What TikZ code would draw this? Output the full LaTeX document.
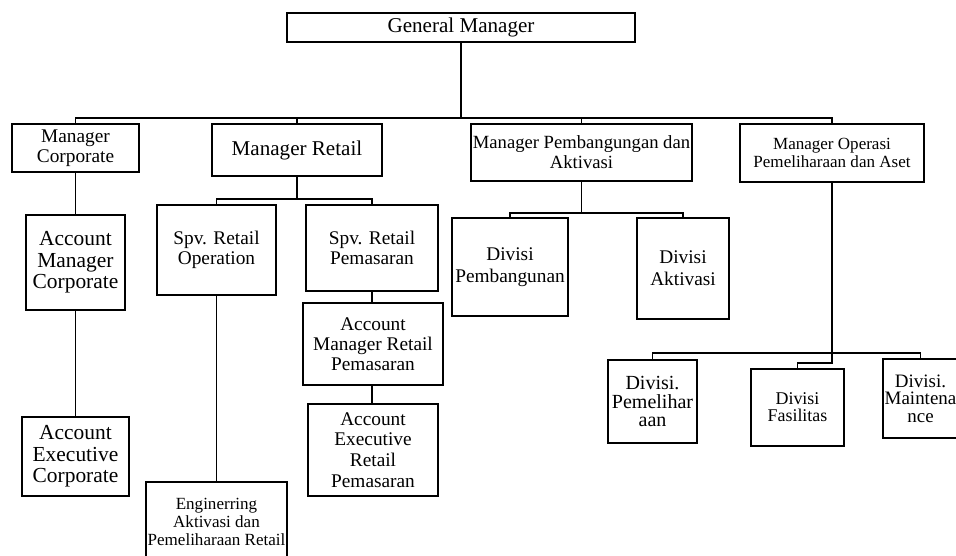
\documentclass[tikz,border=0pt]{standalone}
\usepackage{fontspec}
\setmainfont{Liberation Serif}
\begin{document}
\begin{tikzpicture}[x=0.02cm, y=-0.02cm]

\tikzstyle{unit} = [draw, line width=1.1pt, align=center, inner sep=1pt]
\tikzstyle{big}  = [font=\fontsize{12}{12.4}\selectfont]
\tikzstyle{mid}  = [font=\fontsize{11}{11.4}\selectfont]
\tikzstyle{sml}  = [font=\fontsize{9.7}{10.3}\selectfont]
\tikzstyle{link} = [line width=1.1pt]

\clip (0,0) rectangle (956,555);

% top and managers
\node [unit, big, minimum width=6.96cm, minimum height=0.58cm] (GM) at (461,27.5) {General Manager};
\node [unit, mid, minimum width=2.54cm, minimum height=0.96cm] (MgrCorp) at (75.5,148) {Manager\\Corporate};
\node [unit, big, minimum width=3.4cm, minimum height=1.04cm] (MgrRetail) at (297,150) {Manager Retail};
\node [unit, font=\fontsize{10.6}{11.3}\selectfont, minimum width=4.42cm, minimum height=1.14cm] (MgrPemb) at (581.5,152.5) {Manager Pembangungan dan\\Aktivasi};
\node [unit, sml, minimum width=3.68cm, minimum height=1.16cm] (MgrOps) at (832,153) {Manager Operasi\\Pemeliharaan dan Aset};

% corporate
\node [unit, font=\fontsize{12.2}{12.3}\selectfont, minimum width=1.98cm, minimum height=1.9cm] (AMCorp) at (75.5,262.5) {Account\\Manager\\Corporate};
\node [unit, font=\fontsize{12.2}{12.3}\selectfont, minimum width=2.14cm, minimum height=1.58cm] (AECorp) at (75.5,456.5) {Account\\Executive\\Corporate};

% retail
\node [unit, mid, minimum width=2.38cm, minimum height=1.8cm] (SpvOps) at (216.5,250) {Spv. Retail\\Operation};
\node [unit, mid, minimum width=2.64cm, minimum height=1.72cm] (SpvPem) at (372,248) {Spv. Retail\\Pemasaran};
\node [unit, sml, minimum width=2.82cm, minimum height=1.6cm] (Eng) at (216.5,522) {Enginerring\\Aktivasi dan\\Pemeliharaan Retail};
\node [unit, mid, minimum width=2.8cm, minimum height=1.64cm] (AMRP) at (373,344) {Account\\Manager Retail\\Pemasaran};
\node [unit, font=\fontsize{11}{11.8}\selectfont, minimum width=2.6cm, minimum height=1.84cm] (AERP) at (373,450) {Account\\Executive\\Retail\\Pemasaran};

% pembangunan
\node [unit, font=\fontsize{11}{12.4}\selectfont, minimum width=2.32cm, minimum height=1.96cm] (DivPemb) at (510,267) {Divisi\\Pembangunan};
\node [unit, font=\fontsize{11}{12.4}\selectfont, minimum width=1.84cm, minimum height=2.02cm] (DivAkt) at (683,268.5) {Divisi\\Aktivasi};

% operasi
\node [unit, font=\fontsize{11.4}{10.6}\selectfont, minimum width=1.78cm, minimum height=1.66cm] (DivPel) at (652.5,401.5) {Divisi.\\Pemelihar\\aan};
\node [unit, font=\fontsize{10.2}{9.6}\selectfont, minimum width=1.86cm, minimum height=1.54cm] (DivFas) at (797.5,407.5) {Divisi\\Fasilitas};
\node [unit, font=\fontsize{10.8}{10}\selectfont, minimum width=1.5cm, minimum height=1.58cm] (DivMnt) at (920.5,398.5) {Divisi.\\Maintena\\nce};

\coordinate (BusTop) at (0,118);
\coordinate (BusRetail) at (0,199);
\coordinate (BusPemb) at (0,213);
\coordinate (BusOps) at (0,353);
\coordinate (JogOps) at (0,363);

% connectors
\draw [link] (GM.south) -- (GM.south |- BusTop);
\draw [link] (MgrCorp.north) -- (MgrCorp.north |- BusTop) -- (MgrOps.north |- BusTop) -- (MgrOps.north);
\draw [link] (MgrRetail.north) -- (MgrRetail.north |- BusTop);
\draw [link] (MgrPemb.north) -- (MgrPemb.north |- BusTop);

\draw [link] (MgrCorp) -- (AMCorp);
\draw [link] (AMCorp) -- (AECorp);

\draw [link] (MgrRetail.south) -- (MgrRetail.south |- BusRetail);
\draw [link] (SpvOps.north) |- (SpvPem.north |- BusRetail) -- (SpvPem.north);
\draw [link] (SpvOps) -- (Eng);
\draw [link] (SpvPem.south) -- (SpvPem.south |- AMRP.north);
\draw [link] (SpvPem.south |- AMRP.south) -- (SpvPem.south |- AERP.north);

\draw [link] (MgrPemb.south) -- (MgrPemb.south |- BusPemb);
\draw [link] (DivPemb.north) |- (DivAkt.north |- BusPemb) -- (DivAkt.north);

\draw [link] (MgrOps.south) -- (MgrOps.south |- JogOps) -| (DivFas.north);
\draw [link] (DivPel.north) |- (DivMnt.north |- BusOps) -- (DivMnt.north);

\end{tikzpicture}
\end{document}
